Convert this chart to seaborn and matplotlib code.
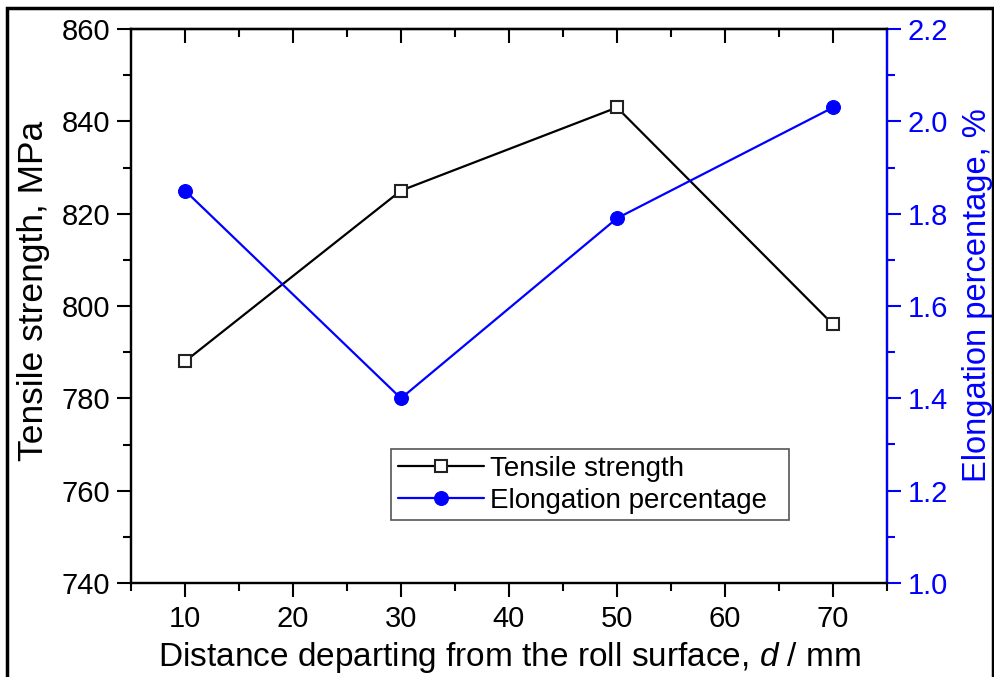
import matplotlib
matplotlib.use("Agg")
import matplotlib.pyplot as plt
from matplotlib.patches import Rectangle
from matplotlib.ticker import MultipleLocator, FormatStrFormatter
import seaborn as sns
import pandas as pd

# Measured properties versus distance from the roll surface
distance_mm = [10, 30, 50, 70]
tensile_strength_mpa = [788, 825, 843, 796]
elongation_pct = [1.85, 1.40, 1.79, 2.03]

sns.set_style("ticks")
plt.rcParams["font.family"] = ["Liberation Sans", "DejaVu Sans"]
plt.rcParams["mathtext.fontset"] = "custom"
plt.rcParams["mathtext.it"] = "Liberation Sans:italic"
plt.rcParams["mathtext.rm"] = "Liberation Sans"
plt.rcParams["text.color"] = "black"
plt.rcParams["axes.labelcolor"] = "black"
plt.rcParams["xtick.color"] = "black"
plt.rcParams["ytick.color"] = "black"

df = pd.DataFrame({
    "d": distance_mm,
    "ts": tensile_strength_mpa,
    "el": elongation_pct,
})

fig = plt.figure(figsize=(9.95, 6.77), dpi=100)
ax = fig.add_axes([131 / 995, 1 - 583 / 677, (887 - 131) / 995, (583 - 29) / 677])
ax2 = ax.twinx()

blue = "#0000ff"

sns.lineplot(data=df, x="d", y="ts", ax=ax, color="black", lw=1.6,
             marker="s", markersize=8, markerfacecolor="white",
             markeredgecolor="#222222", markeredgewidth=1.5,
             label="Tensile strength", legend=False)
sns.lineplot(data=df, x="d", y="el", ax=ax2, color=blue, lw=1.6,
             marker="o", markersize=10, markerfacecolor=blue,
             markeredgecolor=blue, label="Elongation percentage", legend=False)

ax.set_xlim(5, 75)
ax.set_ylim(740, 860)
ax2.set_ylim(1.0, 2.2)

ax.xaxis.set_major_locator(MultipleLocator(10))
ax.xaxis.set_minor_locator(MultipleLocator(5))
ax.yaxis.set_major_locator(MultipleLocator(20))
ax.yaxis.set_minor_locator(MultipleLocator(10))
ax2.yaxis.set_major_locator(MultipleLocator(0.2))
ax2.yaxis.set_minor_locator(MultipleLocator(0.1))
ax2.yaxis.set_major_formatter(FormatStrFormatter("%.1f"))

for a in (ax, ax2):
    for s in a.spines.values():
        s.set_linewidth(1.6)
        s.set_visible(True)
        s.set_color("black")

ax.tick_params(axis="x", which="major", direction="out", length=10, width=1.5,
               labelsize=21, pad=6, top=False)
ax.tick_params(axis="x", which="minor", direction="out", length=6, width=1.5, top=False)
ax.tick_params(axis="y", which="major", direction="out", length=10, width=1.5,
               labelsize=21, pad=5, right=False)
ax.tick_params(axis="y", which="minor", direction="out", length=6, width=1.5, right=False)

# Top spine ticks point inward; draw them via a secondary x-axis
top = ax.secondary_xaxis("top")
top.xaxis.set_major_locator(MultipleLocator(10))
top.xaxis.set_minor_locator(MultipleLocator(5))
top.tick_params(axis="x", which="major", direction="in", length=10, width=1.5, labeltop=False)
top.tick_params(axis="x", which="minor", direction="in", length=6, width=1.5)
top.spines["top"].set_linewidth(1.6)

ax2.spines["right"].set_color(blue)
ax2.tick_params(axis="y", which="major", direction="out", length=10, width=1.5,
                colors=blue, labelsize=21, pad=5)
ax2.tick_params(axis="y", which="minor", direction="out", length=6, width=1.5, colors=blue)

ax.set_xlabel("Distance departing from the roll surface, $\\it{d}$ / mm", fontsize=24, labelpad=5)
ax.set_ylabel("Tensile strength, MPa", fontsize=25.5, labelpad=8)
ax2.set_ylabel("Elongation percentage, %", fontsize=23.5, color=blue, labelpad=10)
ax.yaxis.label.set_y(0.527)
ax2.yaxis.label.set_y(0.52)

# Legend box spanning a fixed width inside the plot
x0 = (391 - 131) / 756
x1 = (789 - 131) / 756
y1 = (583 - 449) / 554
h1, l1 = ax.get_legend_handles_labels()
h2, l2 = ax2.get_legend_handles_labels()
leg = ax2.legend(h1 + h2, l1 + l2, loc="upper left", mode="expand",
                 bbox_to_anchor=(x0, y1 - 0.2, x1 - x0, 0.2),
                 fontsize=20, frameon=True, fancybox=False, shadow=False,
                 handlelength=3.1, handletextpad=0.2, borderpad=0.25,
                 labelspacing=0.2, borderaxespad=0)
leg.get_frame().set_edgecolor("#555555")
leg.get_frame().set_linewidth(1.2)
leg.get_frame().set_alpha(1)

# Outer frame around the figure
fig.patches.append(Rectangle((7 / 995, -0.02), (993 - 7) / 995, 1 - 8 / 677 + 0.02,
                             transform=fig.transFigure, fill=False,
                             edgecolor="black", linewidth=2.5))

fig.savefig("out.png", dpi=100)
